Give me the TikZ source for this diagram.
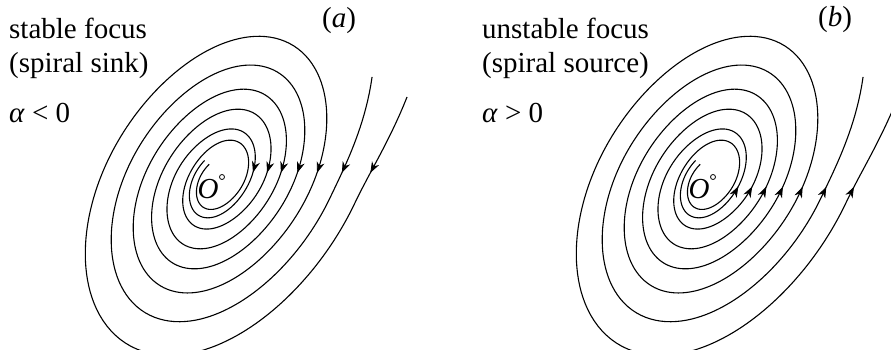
\documentclass[tikz,border=0pt]{standalone}
\usepackage{fontspec}
\setmainfont{Liberation Serif}
\usetikzlibrary{arrows.meta}
\begin{document}
\begin{tikzpicture}[x=1pt,y=1pt,
  declare function={
    gg(\x)=134.4/sqrt(0.38716*cos(\x-60)*cos(\x-60)+sin(\x-60)*sin(\x-60));
    tb(\x)=max(\x+10,0)/57.29578;
    bu(\x)=1-0.1*exp(-((\x/1000+1.08)/0.12)*((\x/1000+1.08)/0.12));
    FF(\x)=exp(1.1*(\x/1000)-0.2*(\x/1000)*(\x/1000))*bu(\x);
    ra(\x)=gg(\x)*FF(\x)*(1+0.453*tb(\x)*tb(\x));
    rb(\x)=gg(\x)*FF(\x-180)*(1+0.258*tb(\x)*tb(\x));
  },
  curve/.style={line width=1.1pt, line join=round},
  tipa/.style={-{Stealth[length=11pt,width=8pt,inset=3.5pt]}, line width=0.8pt},
  lab/.style={font=\fontsize{29}{34}\selectfont, inner sep=0pt, anchor=base west},
  olab/.style={font=\fontsize{29}{34}\selectfont, inner sep=0pt, anchor=center}
]
\path[use as bounding box] (0,0) rectangle (891,349);
\clip (0,0) rectangle (891,349);

% ---------- panel (a) ----------
\coordinate (Ca) at (222,172);
\draw[curve] plot[domain=23.57:-1312, samples=700] ({219+ra(\x)*cos(\x)},{170+ra(\x)*sin(\x)});
\draw[curve] plot[domain=33.69:-1316, samples=700] ({219+rb(\x)*cos(\x)},{170+rb(\x)*sin(\x)});
\foreach \n in {0,1,2,3}{
  \pgfmathsetmacro{\rr}{ra(-360*\n)}
  \pgfmathsetmacro{\ps}{asin(6/\rr)-360*\n}
  \pgfmathsetmacro{\pt}{\ps+1.5}
  \draw[tipa] ({219+ra(\pt)*cos(\pt)},{170+ra(\pt)*sin(\pt)}) -- ({219+ra(\ps)*cos(\ps)},{170+ra(\ps)*sin(\ps)});
}
\foreach \n in {0,1,2}{
  \pgfmathsetmacro{\rr}{rb(-360*\n)}
  \pgfmathsetmacro{\ps}{asin(6/\rr)-360*\n}
  \pgfmathsetmacro{\pt}{\ps+1.5}
  \draw[tipa] ({219+rb(\pt)*cos(\pt)},{170+rb(\pt)*sin(\pt)}) -- ({219+rb(\ps)*cos(\ps)},{170+rb(\ps)*sin(\ps)});
}
\draw[line width=0.8pt] (Ca) circle (2.5);
\node[olab] (Oa) at (208,160) {\textit{O}};
\node[lab] (ta1) at (9,311) {stable focus};
\node[lab] (ta2) at (9,277) {(spiral sink)};
\node[lab] (ta3) at (9,227) {\textit{α} < 0};
\node[lab] (pa) at (322,321) {(\textit{a})};

% ---------- panel (b) ----------
\coordinate (Cb) at (713,172);
\draw[curve] plot[domain=23.57:-1312, samples=700] ({710+ra(\x)*cos(\x)},{170+ra(\x)*sin(\x)});
\draw[curve] plot[domain=33.69:-1316, samples=700] ({710+rb(\x)*cos(\x)},{170+rb(\x)*sin(\x)});
\foreach \n in {0,1,2,3}{
  \pgfmathsetmacro{\rr}{ra(-360*\n)}
  \pgfmathsetmacro{\ps}{-asin(8/\rr)-360*\n}
  \pgfmathsetmacro{\pt}{\ps-1.5}
  \draw[tipa] ({710+ra(\pt)*cos(\pt)},{170+ra(\pt)*sin(\pt)}) -- ({710+ra(\ps)*cos(\ps)},{170+ra(\ps)*sin(\ps)});
}
\foreach \n in {0,1,2}{
  \pgfmathsetmacro{\rr}{rb(-360*\n)}
  \pgfmathsetmacro{\ps}{-asin(8/\rr)-360*\n}
  \pgfmathsetmacro{\pt}{\ps-1.5}
  \draw[tipa] ({710+rb(\pt)*cos(\pt)},{170+rb(\pt)*sin(\pt)}) -- ({710+rb(\ps)*cos(\ps)},{170+rb(\ps)*sin(\ps)});
}
\draw[line width=0.8pt] (Cb) circle (2.5);
\node[olab] (Ob) at (699,160) {\textit{O}};
\node[lab] (tb1) at (482,311) {unstable focus};
\node[lab] (tb2) at (482,277) {(spiral source)};
\node[lab] (tb3) at (482,227) {\textit{α} > 0};
\node[lab] (pb) at (818,322) {(\textit{b})};
\end{tikzpicture}
\end{document}
